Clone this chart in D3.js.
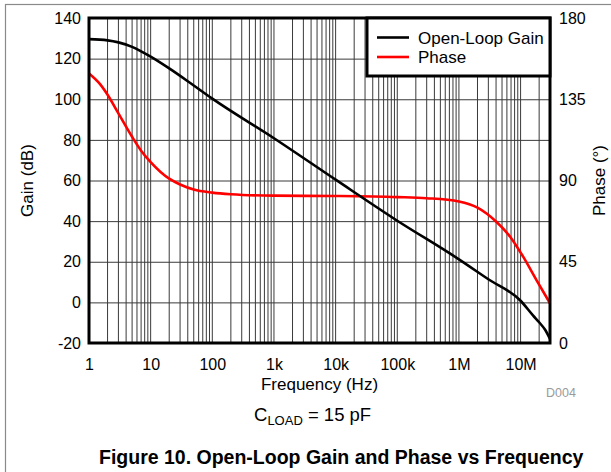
<!DOCTYPE html>
<html>
<head>
<meta charset="utf-8">
<script src="https://cdnjs.cloudflare.com/ajax/libs/d3/7.8.5/d3.min.js"></script>
<style>
  body { margin: 0; background: #fff; }
  text { font-family: "Liberation Sans", Arial, sans-serif; }
</style>
</head>
<body>
<svg id="chart"></svg>
<script>
// frequency axis (Hz)
var xTicks = [1, 10, 100, 1e3, 1e4, 1e5, 1e6, 1e7];
var xTickLabels = ["1", "10", "100", "1k", "10k", "100k", "1M", "10M"];
var gainTicks = [-20, 0, 20, 40, 60, 80, 100, 120, 140];
var phaseTicks = [0, 45, 90, 135, 180];

// open-loop gain (dB)
var gainFreq = [1, 2, 3, 5, 7, 10, 20, 50, 100, 1e3, 1e4, 1e5, 1e6, 3e6, 1e7, 1.6e7, 2e7, 2.5e7, 3e7];
var gainDb   = [129.6, 129, 128, 125.8, 123.6, 121, 115.2, 106.8, 100.3, 80.8, 60.4, 40.2, 21.2, 11.4, 0.8, -6.5, -9.8, -13.5, -18];

// phase (degrees)
var phaseFreq = [1, 1.5, 2, 3, 5, 7, 10, 20, 30, 50, 100, 200, 1e3, 1e4, 1e5, 3e5, 1e6, 2e6, 4e6, 7e6, 1.1e7, 1.8e7, 3e7];
var phaseDeg  = [149.3, 143.5, 137.5, 127.2, 114.2, 106.5, 100.2, 91, 87.8, 85, 83.3, 82.4, 81.6, 81.4, 80.8, 80.2, 78.4, 75, 67.3, 58.2, 47.8, 35, 22];

var W = 611, H = 472;
var margin = {top: 18, right: 61, bottom: 129, left: 89},
    width = W - margin.left - margin.right,
    height = H - margin.top - margin.bottom;

var svg = d3.select("#chart").attr("width", W).attr("height", H);

// outer frame
svg.append("rect")
    .attr("x", 5.5).attr("y", 4.5)
    .attr("width", 640).attr("height", 500)
    .style("fill", "none").style("stroke", "#8a8a8a").style("stroke-width", 1.2);

var g = svg.append("g").attr("transform", "translate(" + margin.left + "," + margin.top + ")");

var x = d3.scaleLog().domain([1, 3e7]).range([0, width]);
var yL = d3.scaleLinear().domain([-20, 140]).range([height, 0]);
var yR = d3.scaleLinear().domain([0, 180]).range([height, 0]);

// vertical grid: every 1..9 per decade
var minor = [];
for (var d = 1; d <= 1e7; d *= 10) {
    for (var m = 1; m <= 9; m++) {
        if (d * m > 1 && d * m < 3e7) minor.push(d * m);
    }
}
g.selectAll(".vgrid").data(minor).enter().append("line")
    .attr("x1", function(f) { return x(f); })
    .attr("x2", function(f) { return x(f); })
    .attr("y1", 0).attr("y2", height)
    .style("stroke", "#3a3a3a").style("stroke-width", 1);

// horizontal grid
g.selectAll(".hgrid").data(gainTicks.slice(1, -1)).enter().append("line")
    .attr("x1", 0).attr("x2", width)
    .attr("y1", function(v) { return yL(v) + 0.5; })
    .attr("y2", function(v) { return yL(v) + 0.5; })
    .style("stroke", "#3a3a3a").style("stroke-width", 1);

// axes (labels only)
var tickFont = "16px", titleFont = "17px";
var ax = g.append("g").attr("transform", "translate(0," + height + ")")
    .call(d3.axisBottom(x).tickValues(xTicks).tickSize(0)
        .tickFormat(function(v, i) { return xTickLabels[i]; }));
var al = g.append("g")
    .call(d3.axisLeft(yL).tickValues(gainTicks).tickSize(0).tickPadding(8)
        .tickFormat(function(v) { return String(v); }));
var ar = g.append("g").attr("transform", "translate(" + width + ",0)")
    .call(d3.axisRight(yR).tickValues(phaseTicks).tickSize(0).tickPadding(9));
[ax, al, ar].forEach(function(a) {
    a.select(".domain").remove();
    a.selectAll("text").style("font-size", tickFont).style("fill", "#000")
        .style("font-family", "Liberation Sans, Arial, sans-serif");
});
ax.selectAll("text").attr("dy", 0).attr("y", 27);

// curves
var gainData = gainFreq.map(function(f, i) { return [f, gainDb[i]]; });
var phaseData = phaseFreq.map(function(f, i) { return [f, phaseDeg[i]]; });

var gainLine = d3.line()
    .x(function(d) { return x(d[0]); })
    .y(function(d) { return yL(d[1]); })
    .curve(d3.curveMonotoneX);
var phaseLine = d3.line()
    .x(function(d) { return x(d[0]); })
    .y(function(d) { return yR(d[1]); })
    .curve(d3.curveMonotoneX);

g.append("path").datum(phaseData).attr("d", phaseLine)
    .style("fill", "none").style("stroke", "#ff0000").style("stroke-width", 2.6);
g.append("path").datum(gainData).attr("d", gainLine)
    .style("fill", "none").style("stroke", "#000").style("stroke-width", 2.6);

// plot frame
g.append("rect").attr("x", 0).attr("y", 0).attr("width", width).attr("height", height)
    .style("fill", "none").style("stroke", "#000").style("stroke-width", 3);

// legend
var lg = g.append("g").attr("transform", "translate(" + (width - 183) + ",0)");
lg.append("rect").attr("x", 0).attr("y", 0).attr("width", 183).attr("height", 58)
    .style("fill", "#fff").style("stroke", "#000").style("stroke-width", 3);
var legendItems = [["Open-Loop Gain", "#000"], ["Phase", "#ff0000"]];
legendItems.forEach(function(it, i) {
    lg.append("line").attr("x1", 10).attr("x2", 42)
        .attr("y1", 19.5 + i * 19.5).attr("y2", 19.5 + i * 19.5)
        .style("stroke", it[1]).style("stroke-width", 2.6);
    lg.append("text").attr("x", 51).attr("y", 25.5 + i * 19.5)
        .style("font-size", titleFont).text(it[0]);
});

// axis titles
svg.append("text")
    .attr("transform", "translate(33," + (margin.top + height / 2) + ") rotate(-90)")
    .attr("text-anchor", "middle").style("font-size", titleFont).text("Gain (dB)");
svg.append("text")
    .attr("transform", "translate(605," + (margin.top + height / 2) + ") rotate(-90)")
    .attr("text-anchor", "middle").style("font-size", titleFont).text("Phase (\u00B0)");
svg.append("text")
    .attr("x", 319.5).attr("y", 390)
    .attr("text-anchor", "middle").style("font-size", titleFont).text("Frequency (Hz)");
svg.append("text")
    .attr("x", 546).attr("y", 397)
    .style("font-size", "12.5px").style("fill", "#9a9a9a").text("D004");

// load note
var note = svg.append("text").attr("x", 254).attr("y", 421).style("font-size", "18.5px");
note.append("tspan").text("C");
note.append("tspan").attr("dy", 4).style("font-size", "13px").text("LOAD");
note.append("tspan").attr("dy", -4).text(" = 15 pF");

// figure caption
svg.append("text").attr("x", 99).attr("y", 464)
    .style("font-size", "19.5px").style("font-weight", "bold")
    .text("Figure 10. Open-Loop Gain and Phase vs Frequency");
</script>
</body>
</html>
